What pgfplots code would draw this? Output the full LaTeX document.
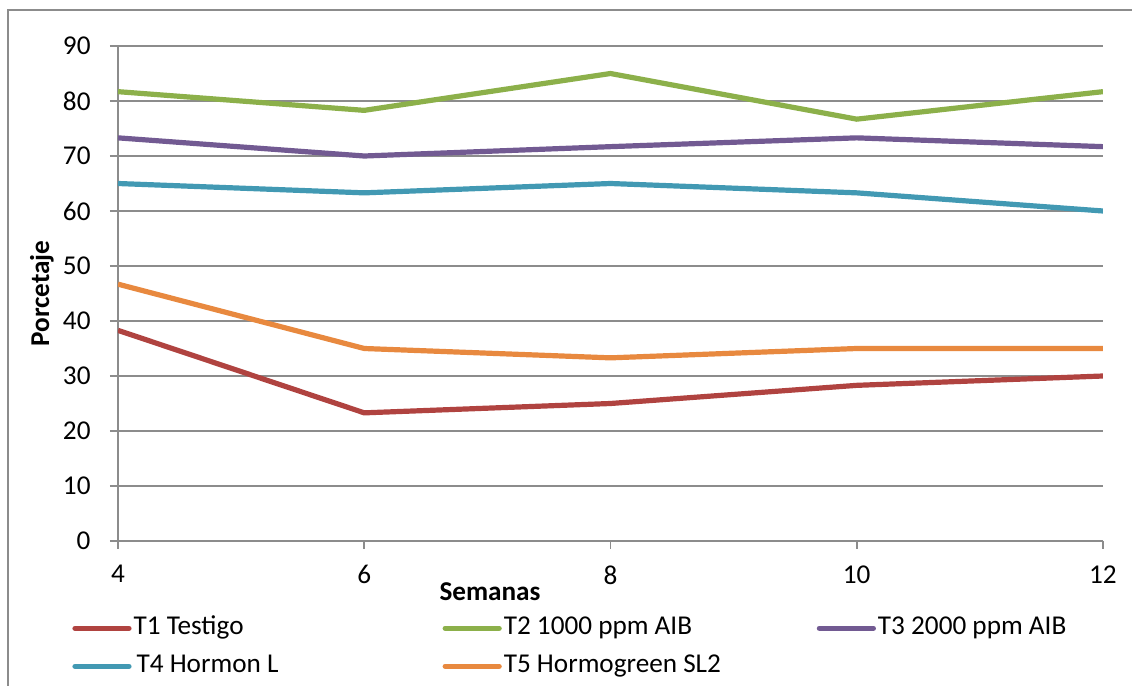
\documentclass[border=0pt]{standalone}
\usepackage{fontspec}
\setmainfont{Carlito}
\usepackage{pgfplots}
\pgfplotsset{compat=1.18}
\definecolor{gridc}{HTML}{8C8C8C}
\definecolor{cA}{HTML}{B04340}
\definecolor{cB}{HTML}{8CB04A}
\definecolor{cC}{HTML}{725A92}
\definecolor{cD}{HTML}{4299B3}
\definecolor{cE}{HTML}{E8893F}
\begin{document}
\fontsize{13.6pt}{15pt}\selectfont
\begin{tikzpicture}
\useasboundingbox (0,0) rectangle (566pt,343pt);
\draw[color=gridc, line width=0.8pt] (4pt,-2pt) -- (4pt,338pt) -- (570pt,338pt);
\begin{axis}[
  at={(59pt,72.5pt)}, anchor=south west,
  scale only axis, width=492.5pt, height=247.5pt,
  xmin=4, xmax=12, ymin=0, ymax=90,
  xtick={4,6,8,10,12}, ytick={0,10,...,90},
  axis lines*=left,
  axis line style={gridc, line width=0.8pt, -},
  ymajorgrids, grid style={gridc, line width=0.8pt},
  tick style={gridc, line width=0.8pt},
  tick align=outside, major tick length=4pt,
  /pgf/number format/assume math mode=true,
  tick label style={font=\fontsize{13.6pt}{15pt}\selectfont, black},
  yticklabel style={anchor=east, xshift=-5pt},
  xticklabel style={yshift=-3.5pt},
  xlabel={\textbf{Semanas}},
  ylabel={\textbf{Porcetaje}},
  xlabel style={at={(axis description cs:0.3777,-0.103)}, anchor=center, font=\fontsize{13.6pt}{15pt}\selectfont},
  ylabel style={at={(axis description cs:-0.0772,0.5)}, anchor=center, font=\fontsize{13.6pt}{15pt}\selectfont},
  legend columns=3,
  legend cell align=left,
  legend image code/.code={\draw[#1, line width=2.6pt, line cap=round] (0pt,0pt) -- (27pt,0pt);},
  legend style={draw=none, fill=none, at={(axis description cs:-0.0528,-0.129)}, anchor=north west,
    font=\fontsize{13.6pt}{15pt}\selectfont,
    nodes={text height=9pt, text depth=3pt, inner ysep=3.5pt, inner xsep=1pt}},
  every axis plot/.append style={line width=2.6pt},
]
\addplot[cA] coordinates {(4,38.3) (6,23.3) (8,25) (10,28.3) (12,30)};
\addlegendentry{\makebox[153.5pt][l]{T1 Testigo}}
\addplot[cB] coordinates {(4,81.7) (6,78.3) (8,85) (10,76.7) (12,81.7)};
\addlegendentry{\makebox[155.5pt][l]{T2 1000 ppm AIB}}
\addplot[cC] coordinates {(4,73.3) (6,70) (8,71.7) (10,73.3) (12,71.7)};
\addlegendentry{T3 2000 ppm AIB}
\addplot[cD] coordinates {(4,65) (6,63.3) (8,65) (10,63.3) (12,60)};
\addlegendentry{\makebox[153.5pt][l]{\hspace{1.5pt}T4 Hormon L}}
\addplot[cE] coordinates {(4,46.7) (6,35) (8,33.3) (10,35) (12,35)};
\addlegendentry{\makebox[155.5pt][l]{T5 Hormogreen SL2}}
\end{axis}
\end{tikzpicture}
\end{document}
